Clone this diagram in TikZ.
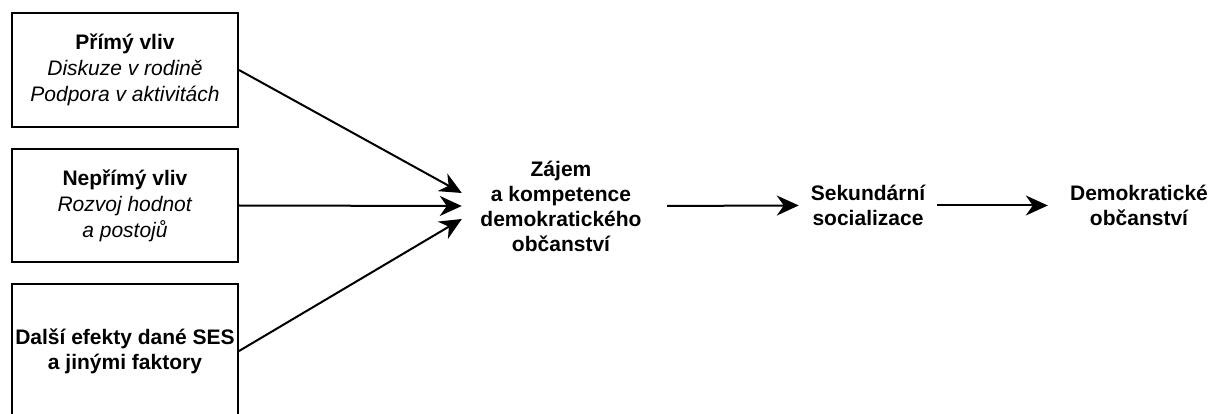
\documentclass[tikz,border=0pt]{standalone}
\usepackage{fontspec}
\setmainfont{Liberation Sans}
\usepackage{tikz}
\usetikzlibrary{arrows.meta}

\begin{document}
\begin{tikzpicture}[x=1pt,y=-1pt]
    \useasboundingbox (0,0) rectangle (1213,414);
    \clip (0,0) rectangle (1213,414);

        \edef\boxwidth{226pt}
        \tikzstyle{infobox}=[draw,line width=2pt,minimum width=\boxwidth,align=center,font=\fontsize{21}{26}\selectfont]
        \tikzstyle{stage}=[align=center,font=\fontsize{21}{25}\selectfont\bfseries]
        \tikzstyle{flow}=[line width=2pt,-{Stealth[length=22pt,width=20pt,inset=7pt]}]

        %% Sources of influence
        \node[infobox,minimum height=114pt] (direct) at (125,70) {\textbf{Přímý vliv}\\\textit{Diskuze v rodině}\\\textit{Podpora v aktivitách}};
        \node[infobox,minimum height=113pt] (indirect) at (125,205.5) {\textbf{Nepřímý vliv}\\\textit{Rozvoj hodnot}\\\textit{a postojů}};
        \node[infobox,minimum height=134pt,font=\fontsize{21}{25}\selectfont\bfseries] (other) at (125,351) {Další efekty dané SES\\a jinými faktory};

        %% Stages
        \node[stage,minimum width=198pt] (mid) at (561,206) {Zájem\\a kompetence\\demokratického\\občanství};
        \node[stage,minimum width=160pt] (sek) at (868,205.5) {Sekundární\\socializace};
        \node[stage,minimum width=182pt] (dem) at (1139,205.5) {Demokratické\\občanství};

        %% Connectors
        \draw[flow] (direct.east) -- ([yshift=13pt]mid.west);
        \draw[flow] (indirect.east) -- (mid.west);
        \draw[flow] (other.east) -- ([yshift=-13pt]mid.west);
        \draw[flow,shorten <=7pt,shorten >=-11pt] (mid.east) -- (sek.west);
        \draw[flow,shorten <=-11pt] (sek.east) -- (dem.west);

    \end{tikzpicture}
\end{document}
